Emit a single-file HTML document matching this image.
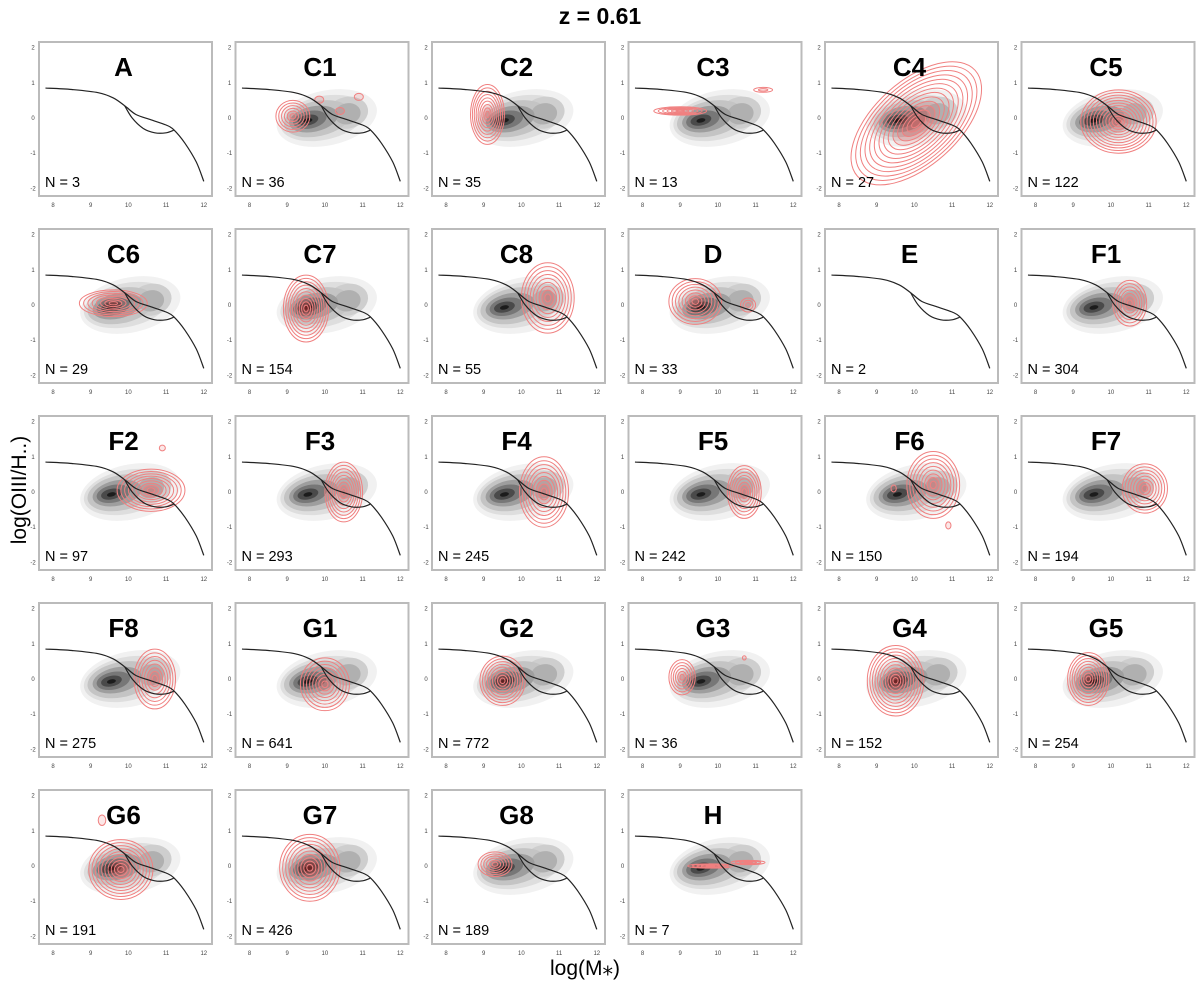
<!DOCTYPE html>
<html><head><meta charset="utf-8"><style>
html,body{margin:0;padding:0;background:#fff;}
svg{display:block;font-family:"Liberation Sans",sans-serif;}
</style></head><body>
<svg id="fig" width="1200" height="989" viewBox="0 0 1200 989" xmlns="http://www.w3.org/2000/svg">
<text x="600" y="24" text-anchor="middle" font-size="23" font-weight="bold">z = 0.61</text>
<text transform="translate(26,490) rotate(-90)" text-anchor="middle" font-size="21">log(OIII/H..)</text>
<text x="585" y="975" text-anchor="middle" font-size="21">log(M⁎)</text>
<g id="panels"></g>
</svg>
<script>
const panelNames=["A","C1","C2","C3","C4","C5","C6","C7","C8","D","E","F1","F2","F3","F4","F5","F6","F7","F8","G1","G2","G3","G4","G5","G6","G7","G8","H"];
const panelCounts=[3,36,35,13,27,122,29,154,55,33,2,304,97,293,245,242,150,194,275,641,772,36,152,254,191,426,189,7];
// red KDE blobs per panel: [cx, cy, rx, ry, levels, rotationDeg]
const redBlobs=[
 [],
 [[9.15,0.05,0.45,0.45,6,0],[9.85,0.52,0.12,0.1,1,0],[10.9,0.6,0.12,0.1,1,0],[10.4,0.2,0.12,0.1,1,0]],
 [[9.1,0.1,0.45,0.85,9,0]],
 [[9.0,0.2,0.7,0.12,6,0],[11.2,0.8,0.25,0.07,2,0]],
 [[10.05,-0.15,2.1,1.2,14,-42]],
 [[10.2,-0.1,1.0,0.9,12,0]],
 [[9.6,0.05,0.9,0.38,8,0]],
 [[9.5,-0.1,0.6,0.95,10,0]],
 [[10.7,0.2,0.7,1.0,9,0]],
 [[9.4,0.1,0.7,0.65,8,0],[10.8,0.0,0.2,0.2,3,0]],
 [],
 [[10.5,0.05,0.45,0.65,7,0]],
 [[10.6,0.05,0.9,0.6,9,0],[10.9,1.25,0.08,0.08,1,0]],
 [[10.5,0.0,0.5,0.85,9,0]],
 [[10.6,0.0,0.65,1.0,9,0]],
 [[10.7,0.0,0.45,0.75,8,0]],
 [[10.5,0.2,0.7,0.95,9,0],[10.9,-0.95,0.07,0.1,1,0],[9.45,0.1,0.07,0.1,1,0]],
 [[10.9,0.1,0.6,0.7,8,0]],
 [[10.7,0.0,0.55,0.85,8,0]],
 [[10.0,-0.15,0.65,0.75,8,0]],
 [[9.5,-0.05,0.6,0.7,9,0]],
 [[9.05,0.05,0.35,0.5,6,0],[10.7,0.6,0.05,0.06,1,0]],
 [[9.5,-0.05,0.75,1.0,11,0]],
 [[9.4,0.0,0.55,0.75,9,0]],
 [[9.8,-0.1,0.85,0.85,10,0],[9.3,1.3,0.1,0.15,1,0]],
 [[9.6,-0.05,0.8,0.95,10,0]],
 [[9.3,0.05,0.45,0.35,6,0]],
 [[9.8,0.0,0.6,0.06,5,0],[10.8,0.1,0.45,0.06,4,0]]
];
const hasBackground=[false,true,true,true,true,true,true,true,true,true,false,true,true,true,true,true,true,true,true,true,true,true,true,true,true,true,true,true];
// background density layers: [cx, cy, rx, ry, gray]
const grayLayers=[[10.05,0.0,1.35,0.78,"#f1f1f1"],[9.95,0.0,1.15,0.62,"#dedede"],[10.6,0.15,0.55,0.45,"#cecece"],[9.8,-0.02,0.9,0.5,"#c4c4c4"],[10.6,0.12,0.35,0.3,"#b0b0b0"],[9.7,-0.03,0.66,0.36,"#9e9e9e"],[9.6,-0.05,0.45,0.25,"#777"],[9.55,-0.06,0.28,0.15,"#4a4a4a"],[9.55,-0.07,0.12,0.06,"#1c1c1c"]];
const xTicks=[8,9,10,11,12];
const yTicks=[2,1,0,-1,-2];
const mainLine=[[7.8,0.85],[8.5,0.81],[9.2,0.72],[9.6,0.57],[9.9,0.35],[10.2,0.1],[10.6,-0.05],[11.0,-0.2],[11.2,-0.33],[11.5,-0.72],[11.8,-1.25],[12,-1.8]];
const lowerLine=[[9.9,0.35],[10.1,0.0],[10.4,-0.3],[10.7,-0.42],[11.0,-0.42],[11.2,-0.35]];

const NS="http://www.w3.org/2000/svg";
const root=document.getElementById("panels");
function mk(tag,attrs,parent){const e=document.createElementNS(NS,tag);for(const k in attrs)e.setAttribute(k,attrs[k]);parent.appendChild(e);return e;}
const colX=[39,235.5,432,628.5,825,1021.5], rowY=[42,229,416,603,790], PW=173, PH=154;

panelNames.forEach((name,i)=>{
  const px=colX[i%6], py=rowY[Math.floor(i/6)];
  const xs=v=>px+14+(v-8)*37.7;
  const ys=v=>py+76-v*35.2;
  const g=mk("g",{},root);
  
  
  const cp=mk("clipPath",{id:"cp"+i},g);
  mk("rect",{x:px,y:py,width:PW,height:PH},cp);
  const inner=mk("g",{"clip-path":"url(#cp"+i+")"},g);
  if(hasBackground[i]){
    grayLayers.forEach(l=>{
      const e=mk("ellipse",{cx:xs(l[0]),cy:ys(l[1]),rx:l[2]*37.7,ry:l[3]*35.2,fill:l[4],transform:`rotate(-12 ${xs(l[0])} ${ys(l[1])})`},inner);
      
      
    });
  }
  const curveD=pts=>{let d="M"+xs(pts[0][0])+","+ys(pts[0][1]);for(let k=1;k<pts.length;k++){const p0=pts[Math.max(0,k-2)],p1=pts[k-1],p2=pts[k],p3=pts[Math.min(pts.length-1,k+1)];
    const c1x=xs(p1[0])+(xs(p2[0])-xs(p0[0]))/6,c1y=ys(p1[1])+(ys(p2[1])-ys(p0[1]))/6,c2x=xs(p2[0])-(xs(p3[0])-xs(p1[0]))/6,c2y=ys(p2[1])-(ys(p3[1])-ys(p1[1]))/6;
    d+=`C${c1x.toFixed(1)},${c1y.toFixed(1)} ${c2x.toFixed(1)},${c2y.toFixed(1)} ${xs(p2[0]).toFixed(1)},${ys(p2[1]).toFixed(1)}`;}return d;};
  redBlobs[i].forEach(b=>{
    const cx=xs(b[0]),cy=ys(b[1]);
    for(let k=b[4];k>=1;k--){
      const f=k/b[4];
      const e=mk("ellipse",{cx:cx,cy:cy,rx:b[2]*37.7*f,ry:b[3]*35.2*f,fill:k<=Math.ceil(b[4]/3)?"rgba(230,60,60,0.12)":"none",stroke:"#f08080","stroke-width":1,transform:`rotate(${b[5]} ${cx} ${cy})`},inner);
      
      
    }
  });
  const l1=mk("path",{d:curveD(mainLine),fill:"none",stroke:"#222","stroke-width":1.2},inner);
  
  
  const l2=mk("path",{d:curveD(lowerLine),fill:"none",stroke:"#222","stroke-width":1.2},inner);
  
  
  const fr=mk("rect",{x:px,y:py,width:PW,height:PH,fill:"none",stroke:"#bbb","stroke-width":2},g);
  
  
  const t=mk("text",{x:px+PW/2-2,y:py+34,"text-anchor":"middle","font-size":26,"font-weight":"bold"},g);
  t.textContent=name;
  
  
  const n=mk("text",{x:px+6,y:py+PH-9,"font-size":14.5},g);
  n.textContent="N = "+panelCounts[i];
  
  
  xTicks.forEach(v=>{const tt=mk("text",{x:xs(v),y:py+PH+11,"text-anchor":"middle","font-size":6,fill:"#444"},g);tt.textContent=v;
    
    });
  yTicks.forEach(v=>{const tt=mk("text",{x:px-6,y:ys(v)+2,"text-anchor":"middle","font-size":6,fill:"#444"},g);tt.textContent=v;
    
    });
});
</script>
</body></html>
